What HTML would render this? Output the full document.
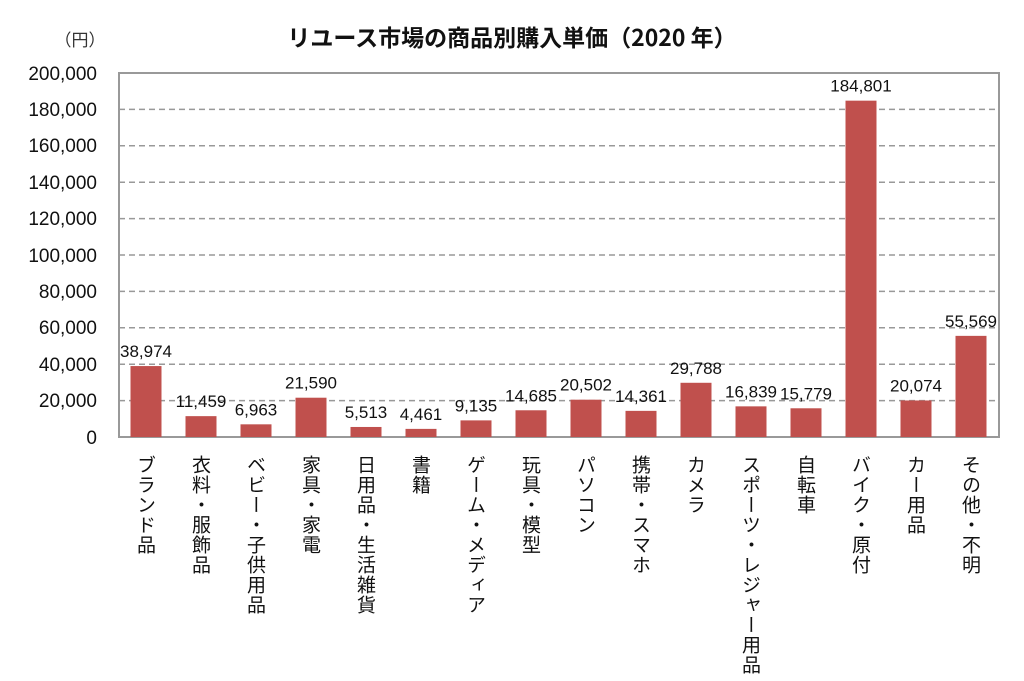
<!DOCTYPE html>
<html><head><meta charset="utf-8"><style>
html,body{margin:0;padding:0;background:#fff;}
body{width:1024px;height:681px;position:relative;overflow:hidden;font-family:"Liberation Sans","Noto Sans CJK JP",sans-serif;}
svg{position:absolute;left:0;top:0;}
.lab{position:absolute;top:455px;writing-mode:vertical-rl;text-orientation:upright;font-size:19px;line-height:22px;width:22px;color:#111;font-family:"Noto Sans CJK JP",sans-serif;letter-spacing:1px;}
</style></head><body>
<svg width="1024" height="681" font-family="Liberation Sans, Noto Sans CJK JP, sans-serif">
<text x="512" y="46" font-size="23" font-weight="bold" text-anchor="middle" font-family="Noto Sans CJK JP, sans-serif" fill="#111">リユース市場の商品別購入単価（2020 年）</text>
<text x="80" y="46" font-size="17" text-anchor="middle" font-family="Noto Sans CJK JP, sans-serif" fill="#333">（円）</text>
<g stroke="#999" stroke-width="1.5" stroke-dasharray="6,4">
<line x1="119" x2="999" y1="109.4" y2="109.4"/><line x1="119" x2="999" y1="145.8" y2="145.8"/>
<line x1="119" x2="999" y1="182.2" y2="182.2"/><line x1="119" x2="999" y1="218.6" y2="218.6"/>
<line x1="119" x2="999" y1="255" y2="255"/><line x1="119" x2="999" y1="291.4" y2="291.4"/>
<line x1="119" x2="999" y1="327.8" y2="327.8"/><line x1="119" x2="999" y1="364.2" y2="364.2"/>
<line x1="119" x2="999" y1="400.6" y2="400.6"/>
</g>
<rect x="119" y="73" width="880" height="364" fill="none" stroke="#999" stroke-width="2"/>
<g font-size="19" text-anchor="end" fill="#111">
<text x="97" y="80">200,000</text><text x="97" y="116">180,000</text><text x="97" y="152">160,000</text>
<text x="97" y="189">140,000</text><text x="97" y="225">120,000</text><text x="97" y="262">100,000</text>
<text x="97" y="298">80,000</text><text x="97" y="334">60,000</text><text x="97" y="371">40,000</text>
<text x="97" y="407">20,000</text><text x="97" y="444">0</text>
</g>
<g fill="#c0504d" id="bars"></g>
<g font-size="17" text-anchor="middle" fill="#111" id="vals"></g>
</svg>
<div id="labs"></div>
<script>
var v=[38974,11459,6963,21590,5513,4461,9135,14685,20502,14361,29788,16839,15779,184801,20074,55569];
var l=["ブランド品","衣料・服飾品","ベビー・子供用品","家具・家電","日用品・生活雑貨","書籍","ゲーム・メディア","玩具・模型","パソコン","携帯・スマホ","カメラ","スポーツ・レジャー用品","自転車","バイク・原付","カー用品","その他・不明"];
var b=document.getElementById('bars'),t=document.getElementById('vals'),d=document.getElementById('labs'),ns="http://www.w3.org/2000/svg";
for(var i=0;i<16;i++){var cx=146+i*55,h=v[i]/200000*364,y=437-h;
var r=document.createElementNS(ns,'rect');r.setAttribute('x',cx-15.5);r.setAttribute('y',y);r.setAttribute('width',31);r.setAttribute('height',h);b.appendChild(r);
var s=document.createElementNS(ns,'text');s.setAttribute('x',cx);s.setAttribute('y',y-9);s.textContent=v[i].toLocaleString('en-US');t.appendChild(s);
var e=document.createElement('div');e.className='lab';e.style.left=(cx-11)+'px';e.textContent=l[i];d.appendChild(e);}
</script>
</body></html>
